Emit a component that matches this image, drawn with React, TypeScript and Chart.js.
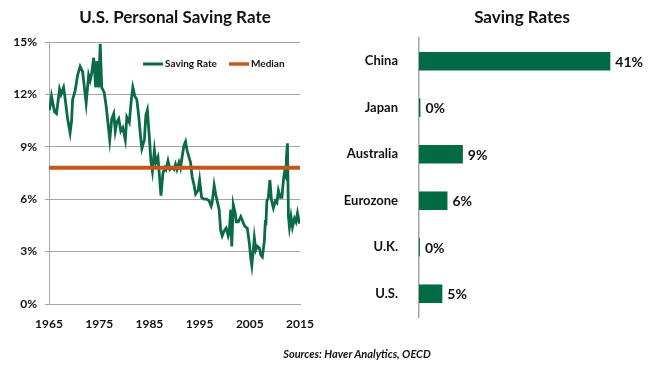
import React, { useEffect, useRef } from "react";
import { Chart, registerables } from "chart.js";
Chart.register(...registerables);

// ---- Data ----
const years = [
  1965.1, 1965.5, 1966.1, 1966.5, 1967.1, 1967.4, 1967.9, 1968.2, 1968.7, 1969.2,
  1969.5, 1969.7, 1970.2, 1970.7, 1971.2, 1971.7, 1972.4, 1972.9, 1973.2, 1973.5,
  1973.9, 1974.3, 1974.5, 1974.9, 1975.2, 1975.5, 1976.0, 1976.4, 1977.1, 1977.5,
  1977.9, 1978.2, 1978.5, 1978.9, 1979.3, 1979.7, 1980.2, 1980.5, 1981.0, 1981.4,
  1981.7, 1982.1, 1982.5, 1982.9, 1983.2, 1983.5, 1984.0, 1984.3, 1984.6, 1985.0,
  1985.3, 1985.6, 1986.0, 1986.3, 1986.7, 1986.9, 1987.3, 1987.7, 1988.1, 1988.3,
  1988.7, 1989.1, 1989.5, 1989.9, 1990.2, 1990.5, 1990.9, 1991.2, 1991.5, 1991.9,
  1992.2, 1992.5, 1992.9, 1993.2, 1993.5, 1993.9, 1994.2, 1994.7, 1995.0, 1995.4,
  1995.9, 1996.4, 1996.9, 1997.3, 1997.5, 1997.9, 1998.2, 1998.5, 1998.9, 1999.2,
  1999.5, 1999.9, 2000.3, 2000.7, 2000.9, 2001.2, 2001.4, 2001.7, 2002.1, 2002.3,
  2002.7, 2003.2, 2003.5, 2003.9, 2004.2, 2004.5, 2004.9, 2005.2, 2005.4, 2005.7,
  2005.9, 2006.2, 2006.5, 2006.9, 2007.2, 2007.5, 2007.9, 2008.1, 2008.2, 2008.4,
  2008.7, 2009.0, 2009.3, 2009.7, 2010.1, 2010.4, 2010.7, 2011.1, 2011.4, 2011.7,
  2011.9, 2012.2, 2012.3, 2012.5, 2012.7, 2012.9, 2013.2, 2013.5, 2013.9, 2014.2,
  2014.5, 2014.9,
];
const savingRate = [
  11.1, 11.9, 11.0, 10.9, 12.3, 12.0, 12.4, 11.8, 10.6, 9.8,
  10.5, 11.7, 12.2, 13.1, 13.6, 13.3, 11.5, 13.1, 12.8, 13.2,
  14.1, 12.4, 13.9, 12.4, 14.9, 12.4, 12.1, 11.3, 9.4, 10.6,
  10.9, 9.9, 10.4, 10.6, 9.9, 10.1, 9.4, 10.7, 10.4, 11.7,
  12.4, 11.9, 11.7, 10.7, 9.7, 8.9, 9.4, 10.8, 11.1, 9.5,
  8.2, 7.6, 8.8, 8.1, 8.4, 7.7, 6.2, 7.5, 7.8, 7.7,
  8.2, 7.7, 7.8, 7.7, 8.0, 7.7, 8.1, 7.8, 8.4, 9.1,
  9.3, 8.8, 8.4, 8.1, 7.3, 6.8, 6.3, 6.5, 7.1, 6.1,
  6.0, 6.0, 5.9, 5.6, 5.8, 6.8, 6.3, 5.9, 5.4, 4.2,
  3.9, 4.2, 4.35, 3.9, 4.1, 5.4, 3.3, 5.7, 5.2, 4.7,
  4.7, 5.0, 4.8, 4.5, 4.4, 4.35, 3.5, 2.6, 2.2, 3.1,
  3.8, 3.1, 3.3, 3.2, 2.8, 2.7, 3.6, 4.8, 4.5, 5.9,
  6.1, 7.1, 6.0, 5.5, 5.9, 5.8, 6.5, 6.1, 6.1, 7.1,
  7.5, 7.3, 8.4, 9.2, 5.0, 4.4, 5.0, 4.4, 4.9, 4.7,
  5.2, 4.6,
];
const medianRate = 7.8;
const yearStart = 1965;
const yearEnd = 2015;
const yearStep = 10;
const rateMax = 15;
const rateStep = 3;

const countries = ["China", "Japan", "Australia", "Eurozone", "U.K.", "U.S."];
const countryRates = [41, 0.3, 9.4, 6.1, 0.2, 5.0];

// ---- Styles ----
const GREEN = "#0B6B47";
const BAR_GREEN = "#006B45";
const ORANGE = "#C4561C";
const GRID = "#A6A6A6";
const TEXT = "#111111";
const FONT = "Lato, 'Open Sans', sans-serif";

const legendPlugin = {
  id: "insideLegend",
  afterDraw(chart: any) {
    const { ctx, chartArea } = chart;
    const y = chartArea.top + 22;
    const items = [
      { label: "Saving Rate", color: GREEN, x: chartArea.left + 94, w: 3 },
      { label: "Median", color: ORANGE, x: chartArea.left + 180, w: 3.5 },
    ];
    ctx.save();
    ctx.font = `bold 10px ${FONT}`;
    ctx.textBaseline = "middle";
    ctx.textAlign = "left";
    for (const it of items) {
      ctx.strokeStyle = it.color;
      ctx.lineWidth = it.w;
      ctx.beginPath();
      ctx.moveTo(it.x, y);
      ctx.lineTo(it.x + 20, y);
      ctx.stroke();
      ctx.fillStyle = TEXT;
      ctx.fillText(it.label, it.x + 22, y);
    }
    ctx.restore();
  },
};

const barLabelPlugin = {
  id: "barLabels",
  afterDatasetsDraw(chart: any) {
    const { ctx } = chart;
    const meta = chart.getDatasetMeta(0);
    const vals = chart.data.datasets[0].data as number[];
    ctx.save();
    ctx.font = `bold 14px ${FONT}`;
    ctx.fillStyle = TEXT;
    ctx.textBaseline = "middle";
    ctx.textAlign = "left";
    meta.data.forEach((bar: any, i: number) => {
      ctx.fillText(`${Math.round(vals[i])}%`, bar.x + 5, bar.y + 1);
    });
    ctx.restore();
  },
};

function LineChart() {
  const ref = useRef<HTMLCanvasElement>(null);
  useEffect(() => {
    if (!ref.current) return;
    const chart = new Chart(ref.current, {
      type: "line",
      data: {
        datasets: [
          {
            label: "Median",
            data: [
              { x: yearStart, y: medianRate },
              { x: yearEnd, y: medianRate },
            ],
            borderColor: ORANGE,
            borderWidth: 4,
            pointRadius: 0,
            order: 0,
          },
          {
            label: "Saving Rate",
            data: years.map((yr, i) => ({ x: yr, y: savingRate[i] })),
            borderColor: GREEN,
            borderWidth: 2.8,
            pointRadius: 0,
            tension: 0,
            order: 1,
          },
        ],
      },
      options: {
        responsive: false,
        animation: false,
        layout: { padding: { top: 42, right: 30, bottom: 32, left: 0 } },
        plugins: { legend: { display: false }, tooltip: { enabled: false } },
        scales: {
          x: {
            type: "linear",
            min: yearStart,
            max: yearEnd,
            grid: { display: false, drawTicks: false },
            border: { color: GRID, width: 1 },
            ticks: {
              stepSize: yearStep,
              padding: 13,
              color: TEXT,
              font: { family: FONT, weight: "bold", size: 12 },
              callback: (v: any) => String(v),
              maxRotation: 0,
            },
            afterFit: (s: any) => {
              s.height = 30;
            },
          },
          y: {
            min: 0,
            max: rateMax,
            grid: { color: GRID, lineWidth: 1, tickLength: 4 },
            border: { color: GRID, width: 1 },
            ticks: {
              stepSize: rateStep,
              padding: 8,
              color: TEXT,
              font: { family: FONT, weight: "bold", size: 12 },
              callback: (v: any) => `${v}%`,
            },
            afterFit: (s: any) => {
              s.width = 49;
            },
          },
        },
      },
      plugins: [legendPlugin],
    } as any);
    return () => chart.destroy();
  }, []);
  return (
    <canvas
      ref={ref}
      width={330}
      height={366}
      style={{ position: "absolute", left: 0, top: 0, width: 330, height: 366 }}
    />
  );
}

function BarChart() {
  const ref = useRef<HTMLCanvasElement>(null);
  useEffect(() => {
    if (!ref.current) return;
    const chart = new Chart(ref.current, {
      type: "bar",
      data: {
        labels: countries,
        datasets: [
          {
            label: "Saving Rates",
            data: countryRates,
            backgroundColor: BAR_GREEN,
            barPercentage: 0.4,
            categoryPercentage: 1,
          },
        ],
      },
      options: {
        indexAxis: "y",
        responsive: false,
        animation: false,
        layout: { padding: { top: 38, right: 21, bottom: 49, left: 0 } },
        plugins: { legend: { display: false }, tooltip: { enabled: false } },
        scales: {
          x: { display: false, min: 0, max: 45 },
          y: {
            grid: { display: false },
            border: { color: GRID, width: 1.5 },
            ticks: {
              padding: 13,
              color: TEXT,
              font: { family: FONT, weight: "bold", size: 13 },
            },
            afterFit: (s: any) => {
              s.width = 89;
            },
          },
        },
      },
      plugins: [barLabelPlugin],
    } as any);
    return () => chart.destroy();
  }, []);
  return (
    <canvas
      ref={ref}
      width={320}
      height={366}
      style={{ position: "absolute", left: 330, top: 0, width: 320, height: 366 }}
    />
  );
}

export default function App() {
  const titleStyle: React.CSSProperties = {
    position: "absolute",
    top: 5,
    fontFamily: FONT,
    fontWeight: 700,
    fontSize: 17,
    color: TEXT,
    whiteSpace: "nowrap",
    transform: "translateX(-50%)",
    lineHeight: "24px",
  };
  return (
    <div
      style={{
        position: "absolute",
        left: 0,
        top: 0,
        width: 650,
        height: 366,
        background: "#ffffff",
        overflow: "hidden",
      }}
    >
      <LineChart />
      <BarChart />
      <div style={{ ...titleStyle, left: 175 }}>U.S. Personal Saving Rate</div>
      <div style={{ ...titleStyle, left: 522 }}>Saving Rates</div>
      <div
        style={{
          position: "absolute",
          left: 357,
          top: 346,
          transform: "translateX(-50%)",
          fontFamily: FONT,
          fontWeight: 700,
          fontStyle: "italic",
          fontSize: 11,
          color: TEXT,
          whiteSpace: "nowrap",
          lineHeight: "16px",
        }}
      >
        Sources: Haver Analytics, OECD
      </div>
    </div>
  );
}
